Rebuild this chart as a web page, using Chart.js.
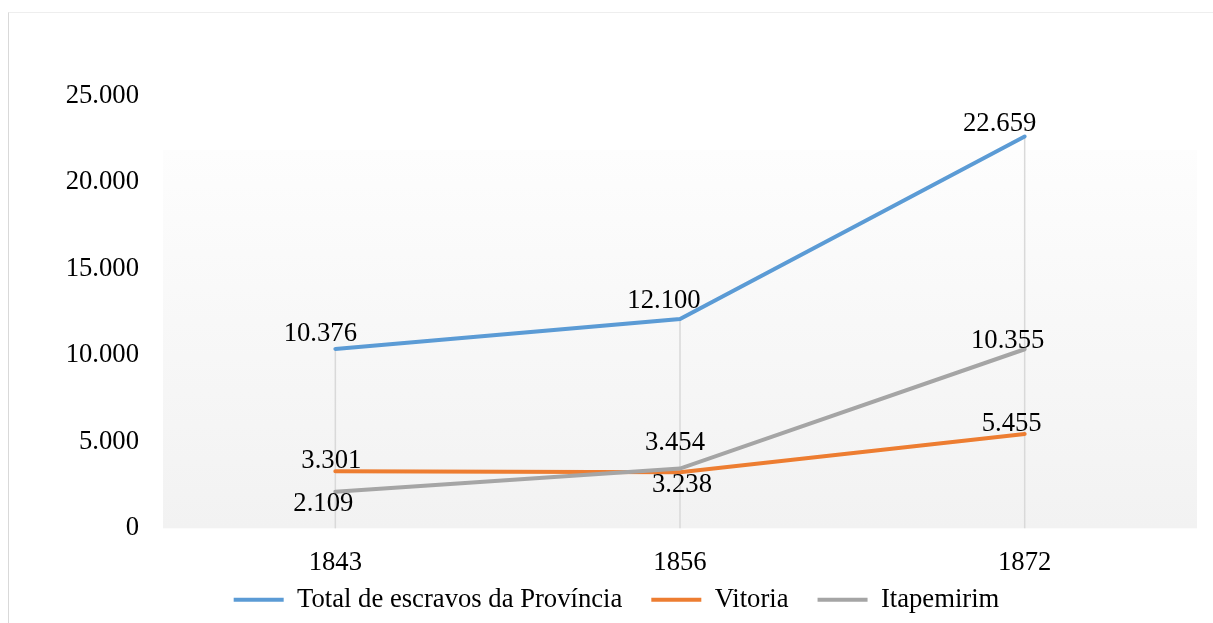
<!DOCTYPE html>
<html>
<head>
<meta charset="utf-8">
<script src="https://cdn.jsdelivr.net/npm/chart.js@4.4.0/dist/chart.umd.min.js"></script>
<style>
  html, body { margin: 0; padding: 0; background: #fff; overflow: hidden; }
  #wrap { position: relative; width: 1213px; height: 623px; }
  #frame { position: absolute; left: 8px; top: 12px; width: 1300px; height: 700px;
           border-left: 1.5px solid #d9d9d9; border-top: 1px solid #eeeeee; }
  canvas { position: absolute; left: 0; top: 0; }
</style>
</head>
<body>
<div id="wrap">
  <div id="frame"></div>
  <canvas id="chart" width="1213" height="623"></canvas>
</div>
<script>
const years = ['1843', '1856', '1872'];
const totalProvincia = [10376, 12100, 22659];
const vitoria = [3301, 3238, 5455];
const itapemirim = [2109, 3454, 10355];
const yTicks = [0, 5000, 10000, 15000, 20000, 25000];

const fmt = v => v.toLocaleString('de-DE');
const serif = '"Liberation Serif", "Times New Roman", serif';
const fontSize = 26.67; // 20pt

// label offsets (px) from each point, per series
const labelOffsets = [
  [[-15, -15], [-16, -18], [-25, -12]],
  [[-4, -10], [2, 13], [-13, -10]],
  [[-12, 12], [-5, -26], [-17, -8]]
];

const backdrop = {
  id: 'backdrop',
  beforeDraw(chart) {
    const { ctx, chartArea: a } = chart;
    const top = a.top + (a.bottom - a.top) * 0.125;
    const g = ctx.createLinearGradient(0, top, 0, a.bottom);
    g.addColorStop(0, '#fdfdfd');
    g.addColorStop(1, '#f2f2f2');
    ctx.save();
    ctx.fillStyle = g;
    ctx.fillRect(a.left, top, a.right - a.left, a.bottom - top);
    ctx.restore();
  },
  beforeDatasetsDraw(chart) {
    // drop lines from the highest point down to the axis
    const { ctx, chartArea: a, scales } = chart;
    ctx.save();
    ctx.strokeStyle = '#d9d9d9';
    ctx.lineWidth = 1.5;
    years.forEach((y, i) => {
      const top = Math.max(...chart.data.datasets.map(d => d.data[i]));
      const x = scales.x.getPixelForValue(i);
      ctx.beginPath();
      ctx.moveTo(x, scales.y.getPixelForValue(top));
      ctx.lineTo(x, a.bottom);
      ctx.stroke();
    });
    ctx.restore();
  }
};

const valueLabels = {
  id: 'valueLabels',
  afterDatasetsDraw(chart) {
    const { ctx } = chart;
    ctx.save();
    ctx.font = fontSize + 'px ' + serif;
    ctx.fillStyle = '#000';
    ctx.textAlign = 'center';
    ctx.textBaseline = 'middle';
    chart.data.datasets.forEach((ds, di) => {
      const meta = chart.getDatasetMeta(di);
      meta.data.forEach((pt, i) => {
        const [dx, dy] = labelOffsets[di][i];
        ctx.fillText(fmt(ds.data[i]), pt.x + dx, pt.y + dy);
      });
    });
    ctx.restore();
  }
};

new Chart(document.getElementById('chart'), {
  type: 'line',
  data: {
    labels: years,
    datasets: [
      { label: 'Total de escravos da Província', data: totalProvincia, borderColor: '#5b9bd5', backgroundColor: '#5b9bd5', borderWidth: 4, order: 2 },
      { label: 'Vitoria', data: vitoria, borderColor: '#ed7d31', backgroundColor: '#ed7d31', borderWidth: 4, order: 1 },
      { label: 'Itapemirim', data: itapemirim, borderColor: '#a5a5a5', backgroundColor: '#a5a5a5', borderWidth: 4, order: 0 }
    ]
  },
  options: {
    responsive: false,
    animation: false,
    elements: {
      line: { tension: 0, borderCapStyle: 'round' },
      point: { radius: 0, hoverRadius: 0 }
    },
    layout: { padding: { left: 36, right: 16, top: 96, bottom: 0 } },
    plugins: {
      legend: {
        position: 'bottom',
        labels: {
          usePointStyle: true,
          pointStyle: 'line',
          pointStyleWidth: 50,
          padding: 29,
          color: '#000',
          font: { family: serif, size: fontSize },
          sort: (a, b) => a.datasetIndex - b.datasetIndex
        }
      },
      tooltip: { enabled: false }
    },
    scales: {
      x: {
        offset: true,
        grid: { display: false, drawTicks: false },
        border: { display: false },
        ticks: { color: '#000', font: { family: serif, size: fontSize }, padding: 19 },
        afterFit: s => {
          s.height = 29;
          s._computeLabelArea = () => undefined; // let the year labels run past the short box
        }
      },
      y: {
        min: 0,
        max: 25000,
        afterBuildTicks: s => { s.ticks = yTicks.map(v => ({ value: v })); },
        grid: { display: false, drawTicks: false },
        border: { display: false },
        ticks: { color: '#000', font: { family: serif, size: fontSize }, padding: 24, callback: v => fmt(v) },
        afterFit: s => { s.width = 127; }
      }
    }
  },
  plugins: [backdrop, valueLabels]
});
</script>
</body>
</html>
